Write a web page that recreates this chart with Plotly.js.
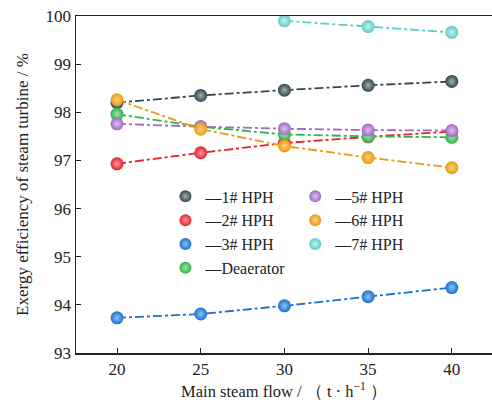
<!DOCTYPE html>
<html><head><meta charset="utf-8">
<script src="https://cdn.plot.ly/plotly-3.0.1.min.js"></script>
<style>html,body{margin:0;padding:0;background:#fff}#chart{width:492px;height:403px}</style>
</head><body><div id="chart"></div>
<script>
const flow = [20, 25, 30, 35, 40];
const flow7 = [30, 35, 40];
const hph1 = [98.20, 98.35, 98.46, 98.56, 98.64];
const hph2 = [96.93, 97.16, 97.36, 97.49, 97.60];
const hph3 = [93.73, 93.81, 93.98, 94.17, 94.36];
const hph5 = [97.76, 97.70, 97.66, 97.63, 97.62];
const hph6 = [98.26, 97.65, 97.30, 97.06, 96.85];
const hph7 = [99.90, 99.78, 99.66];
const deaerator = [97.96, 97.70, 97.54, 97.50, 97.48];

const names = ['—1# HPH','—2# HPH','—3# HPH','—Deaerator','—5# HPH','—6# HPH','—7# HPH'];
const series = [
  {x: flow, y: hph1, c: '#34474a', hi: '#9fb0b3', leg: 'legend'},
  {x: flow, y: hph2, c: '#e8202c', hi: '#ff9aa0', leg: 'legend'},
  {x: flow, y: hph3, c: '#1a6fcc', hi: '#8fc0f5', leg: 'legend'},
  {x: flow, y: deaerator, c: '#2fb24a', hi: '#9be6a9', leg: 'legend'},
  {x: flow, y: hph5, c: '#a268c4', hi: '#dcc0ee', leg: 'legend2'},
  {x: flow7, y: hph7, c: '#5ecbc6', hi: '#c4f1ee', leg: 'legend2'},
  {x: flow, y: hph6, c: '#e89a12', hi: '#ffd47a', leg: 'legend2'}
];
const nameIdx = [0,1,2,3,4,6,5];
const rank = [1,2,3,4,1,3,2];
const traces = [];
series.forEach((s,i) => {
  traces.push({x: s.x, y: s.y, mode: 'lines', showlegend: false,
    line: {color: s.c, width: 1.8, dash: 'dashdot'}, hoverinfo: 'skip'});
});
series.forEach((s,i) => {
  traces.push({x: s.x, y: s.y, mode: 'markers', name: names[nameIdx[i]],
    legend: s.leg, legendrank: rank[i],
    marker: {size: 13, color: s.c, gradient: {type: 'radial', color: s.hi}, line: {width: 0}}});
});

const serif = 'Liberation Serif, Times New Roman, serif';
const layout = {
  width: 492, height: 403,
  margin: {l: 76, r: 0, t: 16, b: 50},
  paper_bgcolor: '#fff', plot_bgcolor: '#fff',
  font: {family: serif, color: '#222', size: 17},
  showlegend: true,
  xaxis: {
    range: [17.55, 42.4], tickvals: [20,25,30,35,40], ticks: 'inside', ticklen: 5,
    tickcolor: '#222', showline: true, linecolor: '#222', linewidth: 1.5, mirror: true,
    showgrid: false, zeroline: false, tickfont: {size: 17, family: serif},
    title: {text: 'Main steam flow / （ t · h<sup>−1</sup> ）', font: {size: 16.5, family: serif}, standoff: 7}
  },
  yaxis: {
    range: [93, 100], dtick: 1, ticks: 'inside', ticklen: 5, tickcolor: '#222',
    showline: true, linecolor: '#222', linewidth: 1.5, showgrid: false, zeroline: false,
    tickfont: {size: 17, family: serif},
    title: {text: 'Exergy efficiency of steam turbine / %', font: {size: 17, family: serif}, standoff: 12}
  },
  legend: {x: 0.215, y: 0.515, xanchor: 'left', yanchor: 'top', bgcolor: 'rgba(0,0,0,0)',
    font: {size: 16, family: serif, color: '#222'}, itemsizing: 'constant', tracegroupgap: 0},
  legend2: {x: 0.527, y: 0.515, xanchor: 'left', yanchor: 'top', bgcolor: 'rgba(0,0,0,0)',
    font: {size: 16, family: serif, color: '#222'}, itemsizing: 'constant', tracegroupgap: 0}
};
Plotly.newPlot('chart', traces, layout, {displayModeBar: false, staticPlot: true});
</script></body></html>
